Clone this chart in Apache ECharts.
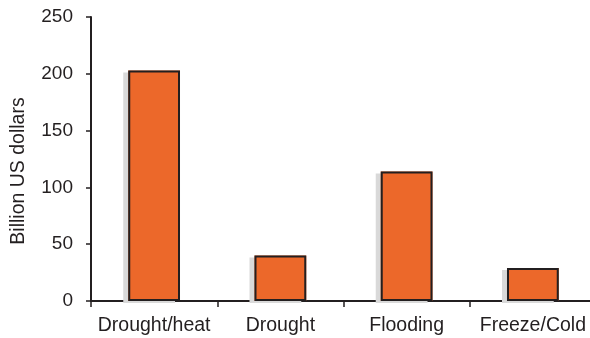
<!DOCTYPE html>
<html><head><meta charset="utf-8">
<script src="https://cdn.jsdelivr.net/npm/echarts@6/dist/echarts.min.js"></script>
<style>html,body{margin:0;padding:0;background:#fff}#c{width:590px;height:338px}</style>
</head><body><div id="c"></div>
<script>
const categories = ['Drought/heat', 'Drought', 'Flooding', 'Freeze/Cold'];
const values = [203, 40, 114, 29];
const yTicks = [0, 50, 100, 150, 200, 250];

const chart = echarts.init(document.getElementById('c'), null, {renderer: 'canvas'});
const font = 'Liberation Sans, Arial, Helvetica, sans-serif';
chart.setOption({
  animation: false,
  grid: {left: 91, right: -6, top: 17, bottom: 37, outerBoundsMode: 'none', containLabel: false},
  xAxis: {
    type: 'category', data: categories,
    axisLine: {lineStyle: {color: '#231f20', width: 2}},
    axisTick: {show: true, length: 6, interval: 0, lineStyle: {color: '#231f20', width: 1.5}},
    axisLabel: {color: '#231f20', fontSize: 19.5, fontFamily: font, margin: 15, interval: 0}
  },
  yAxis: {
    type: 'value', min: yTicks[0], max: yTicks[yTicks.length-1], interval: 50,
    name: 'Billion US dollars', nameLocation: 'middle', nameGap: 62,
    nameTextStyle: {color: '#231f20', fontSize: 19.5, fontFamily: font, padding: [0, 24, 0, 0]},
    axisLine: {show: true, lineStyle: {color: '#231f20', width: 2}},
    axisTick: {show: true, length: 5, lineStyle: {color: '#231f20', width: 1.5}},
    axisLabel: {color: '#231f20', fontSize: 19, fontFamily: font, margin: 18},
    splitLine: {show: false}
  },
  series: [{
    type: 'bar', data: values, barWidth: '41%', silent: true,
    itemStyle: {
      color: '#ec682a', borderWidth: 0,
      shadowColor: '#d9d9d9', shadowOffsetX: -5, shadowOffsetY: 2, shadowBlur: 0
    }
  }, {
    type: 'bar', data: values, barWidth: '41%', barGap: '-100%',
    itemStyle: {color: '#ec682a', borderColor: '#231f20', borderWidth: 2}
  }]
});
</script></body></html>
